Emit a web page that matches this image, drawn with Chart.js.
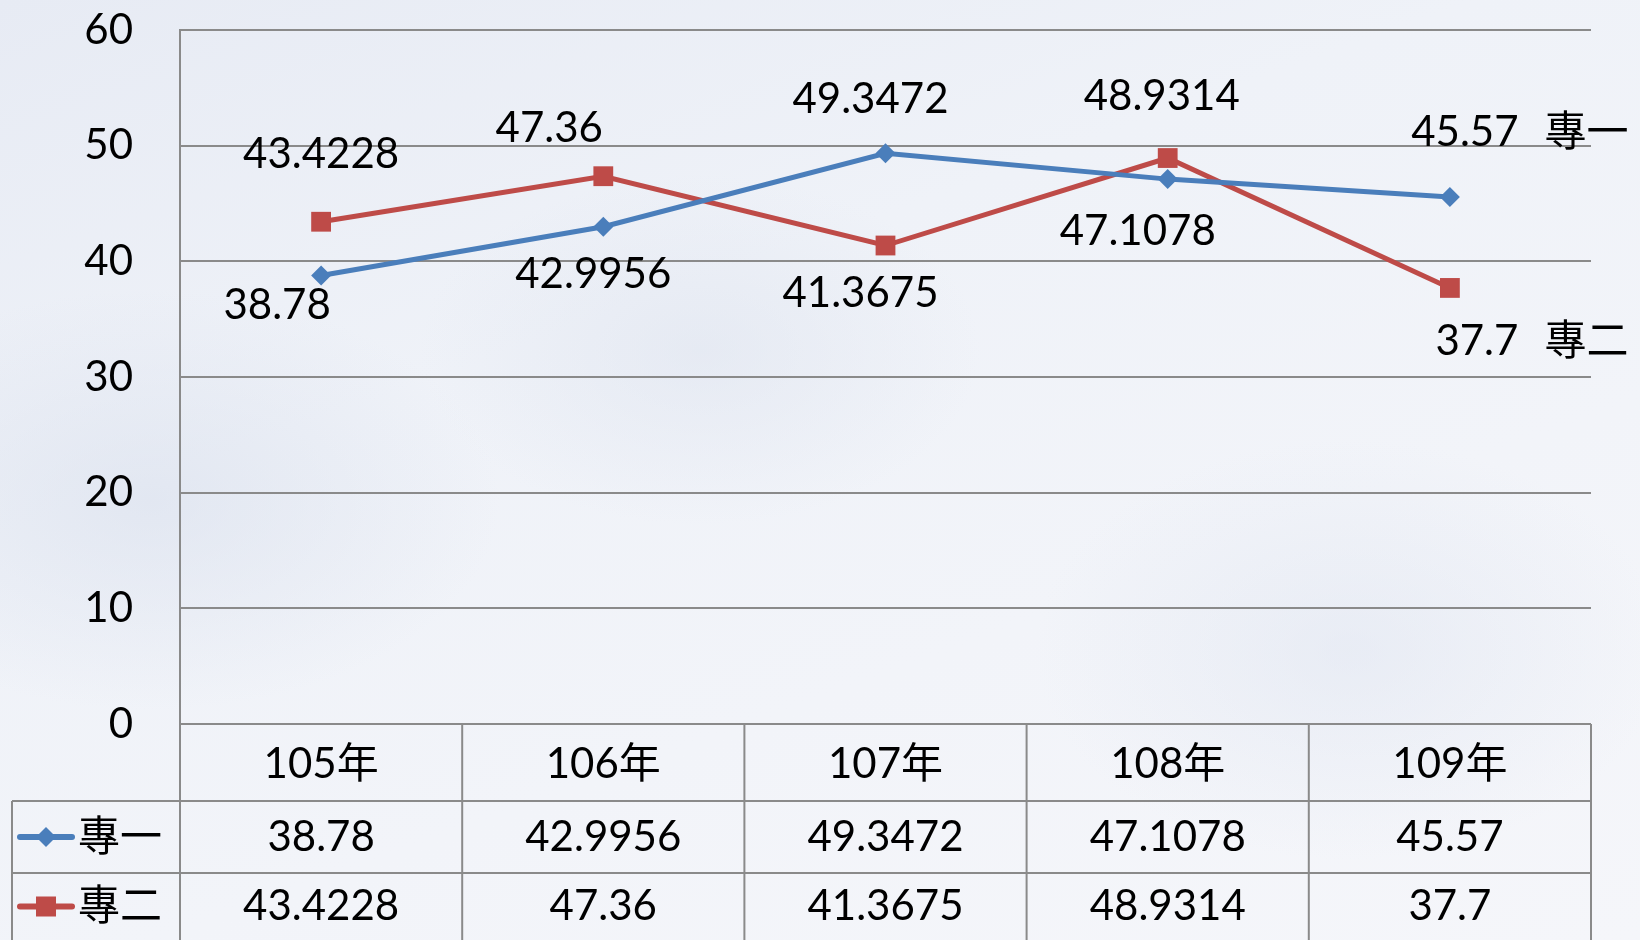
<!DOCTYPE html>
<html>
<head>
<meta charset="utf-8">
<script src="https://cdn.jsdelivr.net/npm/chart.js@4/dist/chart.umd.min.js"></script>
<style>
html, body { margin: 0; padding: 0; width: 1640px; height: 940px; overflow: hidden; }
body {
    background:
        radial-gradient(ellipse 500px 300px at 150px 500px, rgba(215,222,236,0.55), rgba(215,222,236,0) 70%),
        radial-gradient(ellipse 400px 250px at 700px 350px, rgba(220,226,238,0.5), rgba(220,226,238,0) 70%),
        radial-gradient(ellipse 450px 300px at 1350px 650px, rgba(222,228,240,0.5), rgba(222,228,240,0) 70%),
        linear-gradient(160deg, #e7ebf4 0%, #eff2f8 35%, #f2f4f9 65%, #f5f6fa 100%);
}
#c { display: block; }
</style>
</head>
<body>
<canvas id="c" width="1640" height="940"></canvas>
<script>
const years = ['105年', '106年', '107年', '108年', '109年'];
const zhuan1 = [38.78, 42.9956, 49.3472, 47.1078, 45.57];
const zhuan2 = [43.4228, 47.36, 41.3675, 48.9314, 37.7];
const seriesNames = ['專一', '專二'];

// where each data label sits relative to its point (hand placed, like the original)
const offsets1 = [[-44, 30], [-10, 48], [-15, -54], [-30, 52], [15, -64]];
const offsets2 = [[0, -67], [-54, -48], [-25, 48], [-6, -62], [27, 54]];

const BLUE = '#4a7ebb';
const RED = '#be4b48';
const GRID = '#8a8a8a';
const FAMILY = 'Lato, "Noto Sans CJK TC", sans-serif';
const FONT = '42px ' + FAMILY;

function drawMarker(ctx, style, x, y, color) {
    ctx.fillStyle = color;
    if (style === 'diamond') {
        ctx.beginPath();
        ctx.moveTo(x, y - 10);
        ctx.lineTo(x + 10, y);
        ctx.lineTo(x, y + 10);
        ctx.lineTo(x - 10, y);
        ctx.closePath();
        ctx.fill();
    } else {
        ctx.fillRect(x - 10, y - 10, 20, 20);
    }
}

// data labels next to the points
const labelPlugin = {
    id: 'labels',
    afterDatasetsDraw(chart) {
        const ctx = chart.ctx;
        const offs = [offsets1, offsets2];
        ctx.save();
        ctx.font = FONT;
        ctx.fillStyle = '#000';
        ctx.textBaseline = 'middle';
        chart.data.datasets.forEach((ds, d) => {
            const meta = chart.getDatasetMeta(d);
            meta.data.forEach((pt, i) => {
                const txt = String(ds.data[i]);
                const x = pt.x + offs[d][i][0];
                const y = pt.y + offs[d][i][1];
                ctx.textAlign = 'center';
                ctx.fillText(txt, x, y);
                if (i === ds.data.length - 1) {
                    const w = ctx.measureText(txt).width;
                    ctx.textAlign = 'left';
                    ctx.fillText(ds.label, x + w / 2 + 26, y);
                }
            });
        });
        ctx.restore();
    }
};

// data table under the plot
const tablePlugin = {
    id: 'table',
    afterDraw(chart) {
        const ctx = chart.ctx;
        const area = chart.chartArea;
        const xs = chart.scales.x;
        const top = area.bottom;
        const r1 = top + 77;
        const r2 = r1 + 72;
        const bottom = chart.height;
        const leftEdge = 12;
        const n = years.length;
        const centers = years.map((_, i) => xs.getPixelForValue(i));
        const colW = centers.length > 1 ? centers[1] - centers[0] : area.right - area.left;

        ctx.save();
        ctx.strokeStyle = GRID;
        ctx.lineWidth = 2;
        ctx.beginPath();
        ctx.moveTo(area.left, top); ctx.lineTo(area.right, top);
        ctx.moveTo(leftEdge, r1); ctx.lineTo(area.right, r1);
        ctx.moveTo(leftEdge, r2); ctx.lineTo(area.right, r2);
        ctx.moveTo(leftEdge, r1); ctx.lineTo(leftEdge, bottom);
        ctx.moveTo(area.left, top); ctx.lineTo(area.left, bottom);
        for (let i = 0; i < n; i++) {
            const xr = centers[i] + colW / 2;
            ctx.moveTo(xr, top); ctx.lineTo(xr, bottom);
        }
        ctx.stroke();

        ctx.font = FONT;
        ctx.fillStyle = '#000';
        ctx.textAlign = 'center';
        ctx.textBaseline = 'middle';
        const rowsY = [(top + r1) / 2, (r1 + r2) / 2, (r2 + bottom) / 2];
        years.forEach((y, i) => ctx.fillText(y, centers[i], rowsY[0] + 2));
        zhuan1.forEach((v, i) => ctx.fillText(String(v), centers[i], rowsY[1]));
        zhuan2.forEach((v, i) => ctx.fillText(String(v), centers[i], rowsY[2]));

        // legend keys in the first column
        const keys = [[BLUE, 'diamond'], [RED, 'square']];
        keys.forEach((k, j) => {
            const y = rowsY[j + 1];
            ctx.strokeStyle = k[0];
            ctx.lineWidth = 6;
            ctx.lineCap = 'round';
            ctx.beginPath();
            ctx.moveTo(20, y); ctx.lineTo(72, y);
            ctx.stroke();
            drawMarker(ctx, k[1], 46, y, k[0]);
            ctx.fillStyle = '#000';
            ctx.textAlign = 'left';
            ctx.fillText(seriesNames[j], 78, y);
        });
        ctx.restore();
    }
};

new Chart(document.getElementById('c'), {
    type: 'line',
    data: {
        labels: years,
        datasets: [
            {
                label: seriesNames[0],
                data: zhuan1,
                borderColor: BLUE,
                backgroundColor: BLUE,
                borderWidth: 5,
                pointStyle: 'rectRot',
                pointRadius: 10,
                pointBorderWidth: 0,
                tension: 0
            },
            {
                label: seriesNames[1],
                data: zhuan2,
                borderColor: RED,
                backgroundColor: RED,
                borderWidth: 5,
                pointStyle: 'rect',
                pointRadius: 14,
                pointBorderWidth: 0,
                tension: 0
            }
        ]
    },
    options: {
        responsive: false,
        animation: false,
        layout: { padding: { top: 30, right: 49, bottom: 216, left: 0 } },
        plugins: {
            legend: { display: false },
            tooltip: { enabled: false }
        },
        scales: {
            x: { display: false, offset: true },
            y: {
                min: 0,
                max: 60,
                ticks: {
                    stepSize: 10,
                    color: '#000',
                    padding: 4,
                    font: { family: FAMILY, size: 42 }
                },
                grid: { color: GRID, lineWidth: 2, drawTicks: true, tickLength: 43, tickColor: 'rgba(0,0,0,0)' },
                border: { color: GRID, width: 2 },
                afterFit(scale) { scale.width = 180; }
            }
        }
    },
    plugins: [labelPlugin, tablePlugin]
});
</script>
</body>
</html>
